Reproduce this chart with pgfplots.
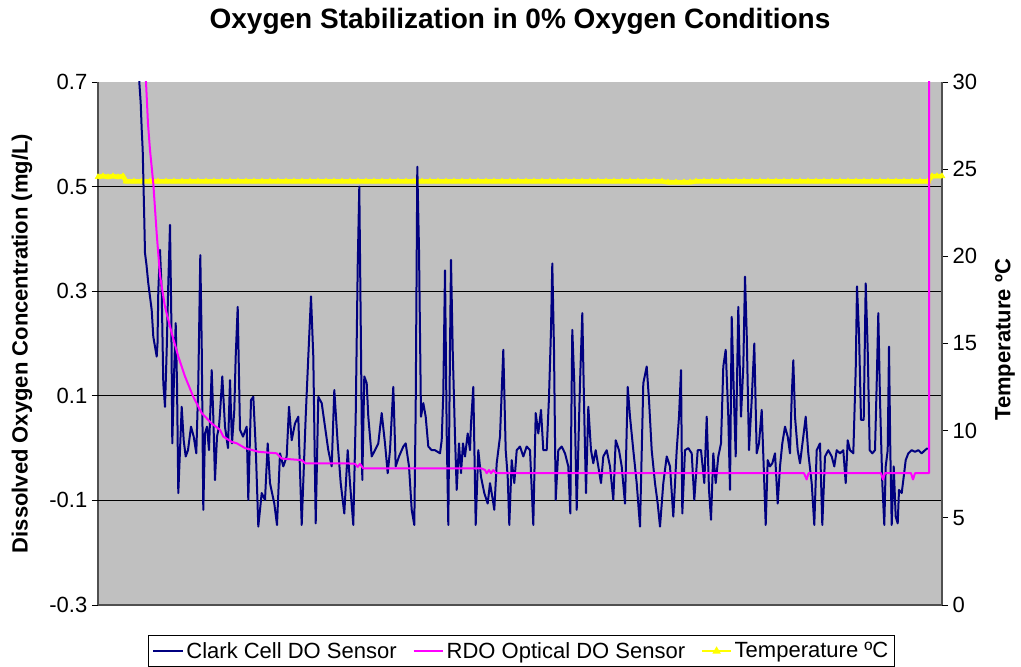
\documentclass[border=0pt]{standalone}
\usepackage{fontspec}
\setmainfont{Liberation Sans}
\usepackage{pgfplots}
\pgfplotsset{compat=1.18}
\definecolor{plotbg}{RGB}{192,192,192}
\definecolor{clark}{RGB}{0,0,128}
\definecolor{rdo}{RGB}{255,0,255}
\definecolor{temp}{RGB}{255,255,0}
\definecolor{axgray}{RGB}{80,80,80}

\begin{document}
\begin{tikzpicture}
\pgfplotsset{
  base/.style={
    scale only axis, width=633pt, height=392.25pt,
    xmin=98, xmax=942,
    tick label style={font=\fontsize{16.5}{18}\selectfont},
    label style={font=\fontsize{16.5}{19}\selectfont\bfseries},
    tick align=outside, major tick length=4.5pt,
    every tick/.style={black, line width=0.7pt},
    axis line style={-, axgray, line width=0.9pt},
  }
}
% background, grid, left axis
\begin{axis}[base,
  ymin=-0.3, ymax=0.7,
  axis background/.style={fill=plotbg},
  axis x line*=bottom, axis y line*=left,
  xtick=\empty,
  ytick={-0.3,-0.1,0.1,0.3,0.5,0.7},
  yticklabels={-0.3,-0.1,0.1,0.3,0.5,0.7},
  extra y ticks={-0.1,0.1,0.3,0.5},
  extra y tick labels={},
  extra y tick style={grid=major},
  major grid style={black, line width=0.7pt},
  ylabel={Dissolved Oxygen Concentration (mg/L)},
  ylabel style={at={(axis description cs:-0.090,0.5)}, anchor=center},
  title={Oxygen Stabilization in 0\% Oxygen Conditions},
  title style={at={(axis description cs:0.5,1.1003)}, anchor=center, font=\fontsize{21}{25}\selectfont\bfseries},
]
\addplot[draw=none] coordinates {(98,0)};
\end{axis}
% temperature, right axis
\begin{axis}[base,
  ymin=0, ymax=30,
  axis y line*=right, axis x line=none,
  ytick={0,5,10,15,20,25,30},
  yticklabels={0,5,10,15,20,25,30},
  ylabel={Temperature ºC},
  ylabel style={at={(axis description cs:1.0746,0.507)}, anchor=center},
]
\addplot[temp, line width=3.4pt, mark=triangle*, mark size=2.4pt, mark options={fill=temp, draw=temp, line width=0.5pt}] coordinates {
(98,24.55)(103,24.6)(108,24.55)(113,24.6)(118,24.55)(123,24.6)(126,24.3)
(134,24.3)(142,24.3)(150,24.3)(158,24.3)(166,24.3)(174,24.3)(182,24.3)(190,24.3)(198,24.3)
(206,24.3)(214,24.3)(222,24.3)(230,24.3)(238,24.3)(246,24.3)(254,24.3)(262,24.3)(270,24.3)
(278,24.3)(286,24.3)(294,24.3)(302,24.3)(310,24.3)(318,24.3)(326,24.3)(334,24.3)(342,24.3)
(350,24.3)(358,24.3)(366,24.3)(374,24.3)(382,24.3)(390,24.3)(398,24.3)(406,24.3)(414,24.3)
(422,24.3)(430,24.3)(438,24.3)(446,24.3)(454,24.3)(462,24.3)(470,24.3)(478,24.3)(486,24.3)
(494,24.3)(502,24.3)(510,24.3)(518,24.3)(526,24.3)(534,24.3)(542,24.3)(550,24.3)(558,24.3)
(566,24.3)(574,24.3)(582,24.3)(590,24.3)(598,24.3)(606,24.3)(614,24.3)(622,24.3)(630,24.3)
(638,24.3)(646,24.3)(654,24.3)(662,24.3)(668,24.25)(676,24.25)(684,24.25)(690,24.25)(696,24.3)
(704,24.3)(712,24.3)(720,24.3)(728,24.3)(736,24.3)(744,24.3)(752,24.3)(760,24.3)(768,24.3)
(776,24.3)(784,24.3)(792,24.3)(800,24.3)(808,24.3)(816,24.3)(824,24.3)(832,24.3)(840,24.3)
(848,24.3)(856,24.3)(864,24.3)(872,24.3)(880,24.3)(888,24.3)(896,24.3)(904,24.3)(912,24.3)
(920,24.3)(928,24.3)(932,24.6)(937,24.6)(942,24.6)
};
\end{axis}
% DO sensors on top
\begin{axis}[base,
  ymin=-0.3, ymax=0.7,
  hide axis,
  legend style={at={(0.502,-0.0574)}, anchor=north, draw=black, line width=0.8pt, fill=white,
    font=\fontsize{16.5}{19}\selectfont, inner sep=3pt,
    /tikz/every even column/.append style={column sep=10pt}},
  legend columns=3,
  legend image code/.code={\draw[mark repeat=2,mark phase=2,#1] plot coordinates {(0pt,0pt) (11pt,0pt) (22pt,0pt)};},
]
\addplot[clark, line width=1.5pt, line join=round] coordinates {
(137.5,0.85)(139.3,0.70)(140.7,0.66)(141.7,0.61)(142.7,0.57)(143.3,0.52)(144.3,0.436)(145,0.373)
(146.5,0.35)(148.3,0.315)(151.7,0.264)(153.3,0.213)(156.7,0.175)(157.5,0.20)(158.3,0.30)(160,0.379)
(161.7,0.30)(163.3,0.124)(165,0.079)(166.7,0.188)(168.3,0.315)(170,0.427)(171.3,0.251)(172.3,0.009)
(174.3,0.156)(175.7,0.239)(177,0.124)(178.3,-0.086)(180,-0.004)(181.7,0.079)(183.7,0.015)(185.7,-0.016)
(188,-0.004)(191,0.041)(193.7,0.022)(196.3,-0.01)(198.3,0.124)(200.3,0.369)(201.7,0.2)(203.3,-0.118)
(205,0.028)(207,0.041)(209,-0.004)(211.7,0.149)(213.3,0.06)(215,-0.061)(217,0.022)(219,0.041)
(220,0.067)(222.3,0.137)(225,0.041)(228,0.0)(230,0.13)(232,0.009)(234.3,0.073)(235.7,0.175)
(237.7,0.27)(240,0.035)(243,0.022)(246.7,0.041)(248.3,-0.099)(251,0.092)(253.3,0.098)(255.7,0.003)
(258.3,-0.15)(261.7,-0.086)(265,-0.099)(267.7,0.009)(270,-0.067)(274.3,-0.106)(277,-0.147)(280,-0.01)
(283.3,-0.035)(286.7,-0.016)(289,0.079)(291.7,0.015)(295,0.047)(298.3,0.06)(301.7,-0.147)(305.7,0.06)
(308.3,0.175)(311,0.29)(313.3,0.175)(315.7,-0.144)(318.3,0.098)(321.7,0.086)(325,0.041)(328.3,-0.004)
(331.7,-0.035)(334.3,0.111)(337.7,0.009)(340.7,-0.067)(344.3,-0.125)(347.7,-0.004)(350,-0.067)(353.3,-0.147)
(355.7,0.06)(357.7,0.347)(359.3,0.5)(361,0.188)(362.3,-0.061)(364.3,0.137)(366.7,0.124)(368.3,0.06)
(371.7,-0.016)(375,-0.004)(378.3,0.009)(381.7,0.067)(385,0.009)(387.7,-0.048)(390,-0.004)(393.3,0.117)
(395.7,-0.035)(399,-0.016)(403.3,0.003)(405.7,0.009)(409,-0.035)(411.7,-0.118)(414.3,-0.147)(415.7,0.079)
(417.3,0.538)(419,0.379)(421,0.06)(423.3,0.086)(425.7,0.06)(428.3,0.003)(431.7,-0.004)(435,-0.004)
(440,-0.010)(441.7,0.015)(443.3,0.105)(445,0.34)(446.7,0.028)(448.3,-0.147)(450,0.188)(451,0.36)
(452.7,0.188)(455,0.022)(456.7,-0.080)(459,0.009)(461,-0.048)(463,0.009)(465,-0.016)(467.7,0.028)
(470,-0.004)(471,0.047)(473.3,0.117)(475.7,-0.147)(478.3,-0.004)(481,-0.055)(484.3,-0.086)(487.7,-0.106)
(490,-0.067)(492.3,-0.093)(494.3,-0.118)(496.7,-0.029)(500,0.022)(503.3,0.188)(505.7,-0.004)(507.7,-0.055)
(509.3,-0.147)(511.7,-0.023)(514.3,-0.067)(516.7,-0.004)(520,0.003)(523.3,-0.016)(526.7,0.003)(530,-0.004)
(533.3,-0.147)(535.7,0.067)(538.3,0.028)(541,0.073)(543.3,-0.004)(546.7,-0.004)(549,0.098)(551,0.226)
(552.3,0.353)(554,0.188)(555.7,-0.099)(558.3,-0.004)(561.7,0.003)(565,-0.010)(568.3,-0.035)(570.3,-0.125)
(572.3,0.226)(574.3,0.124)(576.7,-0.118)(580,0.124)(582.3,0.258)(584.3,0.06)(586,-0.086)(588.3,0.079)
(591,-0.004)(593.3,-0.029)(595.7,-0.004)(598.3,-0.035)(601,-0.067)(603.3,-0.016)(606.7,-0.004)(610,-0.035)
(613.3,-0.099)(615.7,0.015)(619,-0.004)(621.7,-0.035)(625,-0.106)(627.7,0.117)(630,0.06)(633.3,-0.004)
(636.7,-0.067)(640,-0.150)(643.3,0.124)(646.7,0.156)(649,0.092)(651.7,-0.004)(655,-0.067)(657.7,-0.106)
(660,-0.150)(663.3,-0.067)(666.7,-0.016)(670,-0.035)(673.3,-0.131)(676.7,-0.004)(679,0.060)(681,0.149)
(682.3,-0.125)(685,-0.004)(688.3,0.0)(691.7,-0.010)(694.3,-0.099)(697.7,-0.004)(701,-0.004)(704.3,-0.067)
(706.7,0.060)(709,-0.080)(711,-0.137)(713.3,-0.010)(715.7,-0.067)(718.3,-0.016)(721,0.009)(723.3,0.156)
(725.7,0.188)(728.3,0.060)(730,-0.080)(731.7,0.251)(734.3,0.073)(735.7,-0.016)(738.3,0.270)(741,0.060)
(743.3,0.156)(745,0.328)(746.7,0.219)(749,-0.004)(751.7,0.092)(754.3,0.200)(756.7,-0.010)(759,0.009)
(761.7,0.073)(763.7,-0.035)(765.7,-0.147)(767.7,-0.023)(770,-0.035)(772.3,-0.029)(775,-0.010)(777.7,-0.106)
(780,-0.035)(782.3,0.009)(785,0.041)(787.7,0.022)(790,-0.010)(791.7,0.098)(793.3,0.168)(795,0.060)
(797.7,-0.004)(800,-0.029)(803.3,0.022)(805.7,0.060)(808.3,-0.010)(811.7,-0.067)(814.3,-0.147)(816.7,-0.004)
(820,0.009)(822.3,-0.147)(825,-0.016)(828.3,-0.004)(831.7,-0.016)(834.3,-0.035)(836.7,-0.004)(840,-0.010)
(843.3,-0.004)(845.7,-0.067)(847.7,0.015)(850,-0.004)(853.3,-0.010)(855.7,0.149)(857,0.309)(859,0.219)
(861,0.054)(863.7,0.054)(865.7,0.315)(867.7,0.188)(869.7,-0.004)(872.3,-0.010)(875,-0.004)(876.7,0.124)
(878.3,0.258)(880,0.092)(882.3,-0.067)(884.3,-0.147)(885.7,-0.035)(887.7,-0.004)(889,0.194)(890.3,-0.004)
(891.7,-0.147)(893.7,-0.035)(895.7,-0.131)(897.7,-0.144)(899,-0.080)(901.7,-0.086)(903.7,-0.055)(905.7,-0.023)
(908.3,-0.010)(911.7,-0.004)(915,-0.007)(918.3,-0.004)(921.7,-0.010)(925,-0.004)(927.7,0.000)
};
\addlegendentry{Clark Cell DO Sensor}
\addplot[rdo, line width=1.5pt, line join=round] coordinates {
(144.5,0.85)(146,0.70)(148,0.62)(150,0.57)(153.3,0.506)(156.7,0.41)(160,0.33)(165,0.27)
(171.7,0.22)(178.3,0.175)(185,0.137)(193.3,0.098)(201.7,0.067)(211.7,0.047)(220,0.035)(223.3,0.022)
(231.7,0.012)(237,0.009)(245,0.0)(258.3,-0.007)(276.7,-0.010)(281.7,-0.020)(301.7,-0.023)(305,-0.029)
(345,-0.029)(355,-0.030)(357.7,-0.036)(360,-0.030)(363.3,-0.039)(400,-0.039)(481.7,-0.039)(485,-0.042)
(486.7,-0.048)(489,-0.042)(491,-0.048)(493.3,-0.042)(496,-0.048)(503.3,-0.048)(600,-0.048)(700,-0.048)
(804,-0.048)(806.7,-0.060)(808.5,-0.048)(881,-0.048)(883,-0.060)(885,-0.048)(911,-0.048)(913,-0.060)
(915,-0.048)(929,-0.048)(929.3,1.0)
};
\addlegendentry{RDO Optical DO Sensor}
\addlegendimage{temp, line width=1.2pt, mark=triangle*, mark size=2.5pt, mark options={fill=temp}}
\addlegendentry{Temperature ºC}
\end{axis}
\pgfresetboundingbox
\path[use as bounding box] (-73.5pt,-46.5pt) rectangle (692.25pt,453.75pt);
\end{tikzpicture}
\end{document}
